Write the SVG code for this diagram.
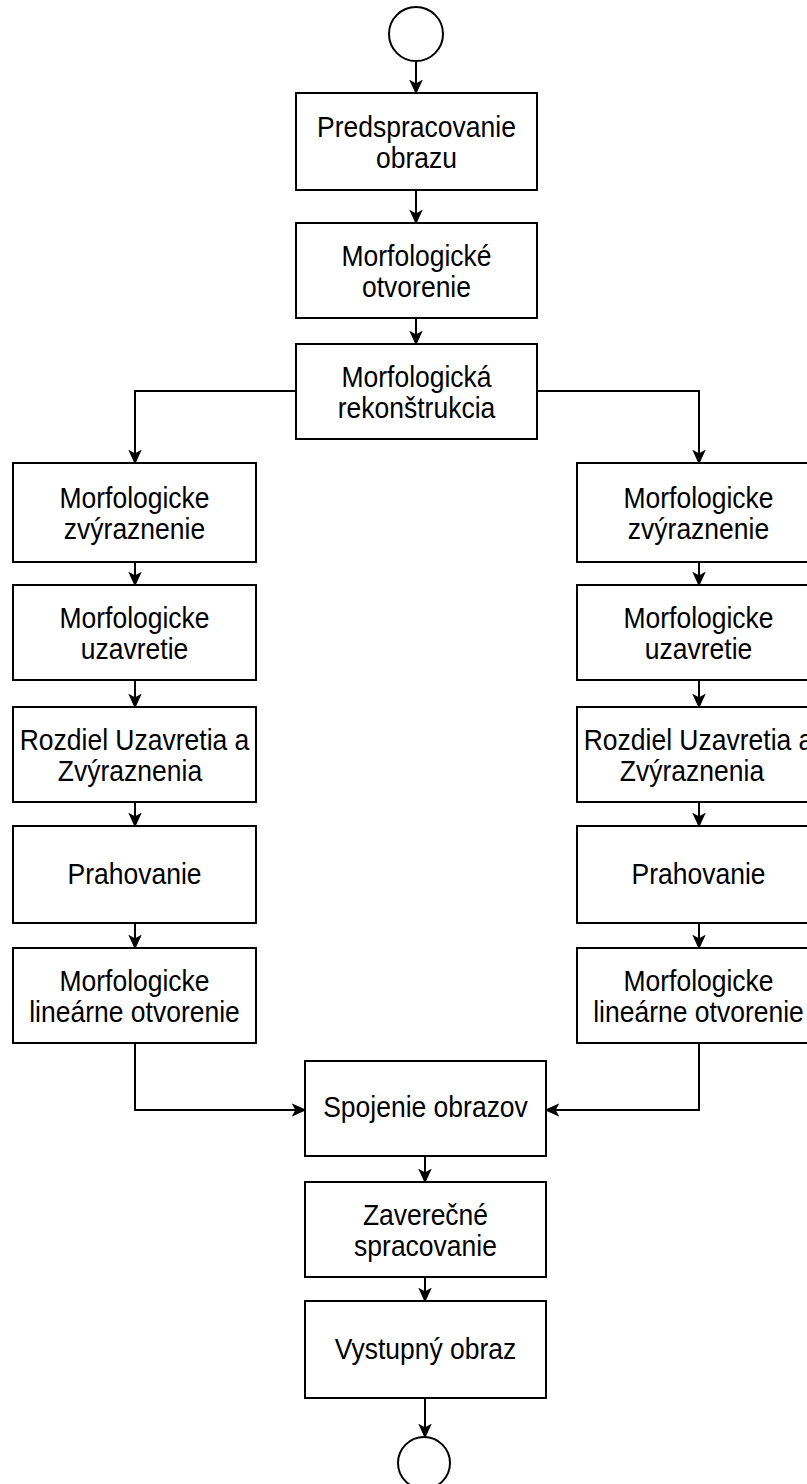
<svg xmlns="http://www.w3.org/2000/svg" width="807" height="1484" viewBox="0 0 807 1484">
<style>
.box{fill:#fff;stroke:#000;stroke-width:2}
.term{fill:#fff;stroke:#000;stroke-width:2}
.t{font-family:"Liberation Sans",Arial,sans-serif;font-size:26.5px;fill:#000;text-anchor:middle}
.c{fill:none;stroke:#000;stroke-width:2}
</style>
<defs>
<marker id="ah" markerUnits="userSpaceOnUse" markerWidth="14" markerHeight="14" viewBox="0 0 14 14" refX="13" refY="7" orient="auto">
<path d="M1,1.5 L13,7 L1,12.5 L4,7 z" fill="#000" stroke="#000" stroke-width="1.2"/>
</marker>
</defs>
<rect width="807" height="1484" fill="#fff"/>
<g id="connectors">
<path class="c" d="M416,61 V93" marker-end="url(#ah)"/>
<path class="c" d="M416,190 V223" marker-end="url(#ah)"/>
<path class="c" d="M416,318 V344" marker-end="url(#ah)"/>
<path class="c" d="M296,391 H135 V463" marker-end="url(#ah)"/>
<path class="c" d="M537,391 H699 V463" marker-end="url(#ah)"/>
<path class="c" d="M135,562 V585" marker-end="url(#ah)"/>
<path class="c" d="M135,680 V707" marker-end="url(#ah)"/>
<path class="c" d="M135,802 V826" marker-end="url(#ah)"/>
<path class="c" d="M135,923 V948" marker-end="url(#ah)"/>
<path class="c" d="M699,562 V585" marker-end="url(#ah)"/>
<path class="c" d="M699,680 V707" marker-end="url(#ah)"/>
<path class="c" d="M699,802 V826" marker-end="url(#ah)"/>
<path class="c" d="M699,923 V948" marker-end="url(#ah)"/>
<path class="c" d="M135,1043 V1110 H305" marker-end="url(#ah)"/>
<path class="c" d="M699,1043 V1110 H546" marker-end="url(#ah)"/>
<path class="c" d="M425,1156 V1182" marker-end="url(#ah)"/>
<path class="c" d="M425,1277 V1301" marker-end="url(#ah)"/>
<path class="c" d="M425,1398 V1437" marker-end="url(#ah)"/>
</g>
<g id="start"><circle class="term" cx="416" cy="34" r="27"/></g>
<g id="n1"><rect class="box" x="296" y="93" width="241" height="97"/><text class="t" transform="matrix(1,0,0,1.1,416.5,137)">Predspracovanie</text><text class="t" transform="matrix(1,0,0,1.1,416.5,168)">obrazu</text></g>
<g id="n2"><rect class="box" x="296" y="223" width="241" height="95"/><text class="t" transform="matrix(1,0,0,1.1,416.5,266)">Morfologické</text><text class="t" transform="matrix(1,0,0,1.1,416.5,297)">otvorenie</text></g>
<g id="n3"><rect class="box" x="296" y="344" width="241" height="95"/><text class="t" transform="matrix(1,0,0,1.1,416.5,387)">Morfologická</text><text class="t" transform="matrix(1,0,0,1.1,416.5,418)">rekonštrukcia</text></g>
<g id="l1"><rect class="box" x="13" y="463" width="243" height="99"/><text class="t" transform="matrix(1,0,0,1.1,134.5,508)">Morfologicke</text><text class="t" transform="matrix(1,0,0,1.1,134.5,539)">zvýraznenie</text></g>
<g id="l2"><rect class="box" x="13" y="585" width="243" height="95"/><text class="t" transform="matrix(1,0,0,1.1,134.5,628)">Morfologicke</text><text class="t" transform="matrix(1,0,0,1.1,134.5,659)">uzavretie</text></g>
<g id="l3"><rect class="box" x="13" y="707" width="243" height="95"/><text class="t" transform="matrix(1,0,0,1.1,134.5,750)">Rozdiel Uzavretia a</text><text class="t" transform="matrix(1,0,0,1.1,130,781)">Zvýraznenia</text></g>
<g id="l4"><rect class="box" x="13" y="826" width="243" height="97"/><text class="t" transform="matrix(1,0,0,1.1,134.5,884)">Prahovanie</text></g>
<g id="l5"><rect class="box" x="13" y="948" width="243" height="95"/><text class="t" transform="matrix(1,0,0,1.1,134.5,991)">Morfologicke</text><text class="t" transform="matrix(1,0,0,1.1,134.5,1022)">lineárne otvorenie</text></g>
<g id="r1"><rect class="box" x="577" y="463" width="243" height="99"/><text class="t" transform="matrix(1,0,0,1.1,698.5,508)">Morfologicke</text><text class="t" transform="matrix(1,0,0,1.1,698.5,539)">zvýraznenie</text></g>
<g id="r2"><rect class="box" x="577" y="585" width="243" height="95"/><text class="t" transform="matrix(1,0,0,1.1,698.5,628)">Morfologicke</text><text class="t" transform="matrix(1,0,0,1.1,698.5,659)">uzavretie</text></g>
<g id="r3"><rect class="box" x="577" y="707" width="243" height="95"/><text class="t" transform="matrix(1,0,0,1.1,698.5,750)">Rozdiel Uzavretia a</text><text class="t" transform="matrix(1,0,0,1.1,692,781)">Zvýraznenia</text></g>
<g id="r4"><rect class="box" x="577" y="826" width="243" height="97"/><text class="t" transform="matrix(1,0,0,1.1,698.5,884)">Prahovanie</text></g>
<g id="r5"><rect class="box" x="577" y="948" width="243" height="95"/><text class="t" transform="matrix(1,0,0,1.1,698.5,991)">Morfologicke</text><text class="t" transform="matrix(1,0,0,1.1,698.5,1022)">lineárne otvorenie</text></g>
<g id="n4"><rect class="box" x="305" y="1061" width="241" height="95"/><text class="t" transform="matrix(1,0,0,1.1,425.5,1117)">Spojenie obrazov</text></g>
<g id="n5"><rect class="box" x="305" y="1182" width="241" height="95"/><text class="t" transform="matrix(1,0,0,1.1,425.5,1225)">Zaverečné</text><text class="t" transform="matrix(1,0,0,1.1,425.5,1256)">spracovanie</text></g>
<g id="n6"><rect class="box" x="305" y="1301" width="241" height="97"/><text class="t" transform="matrix(1,0,0,1.1,425.5,1359)">Vystupný obraz</text></g>
<g id="end"><circle class="term" cx="424" cy="1463" r="26"/></g>
</svg>
